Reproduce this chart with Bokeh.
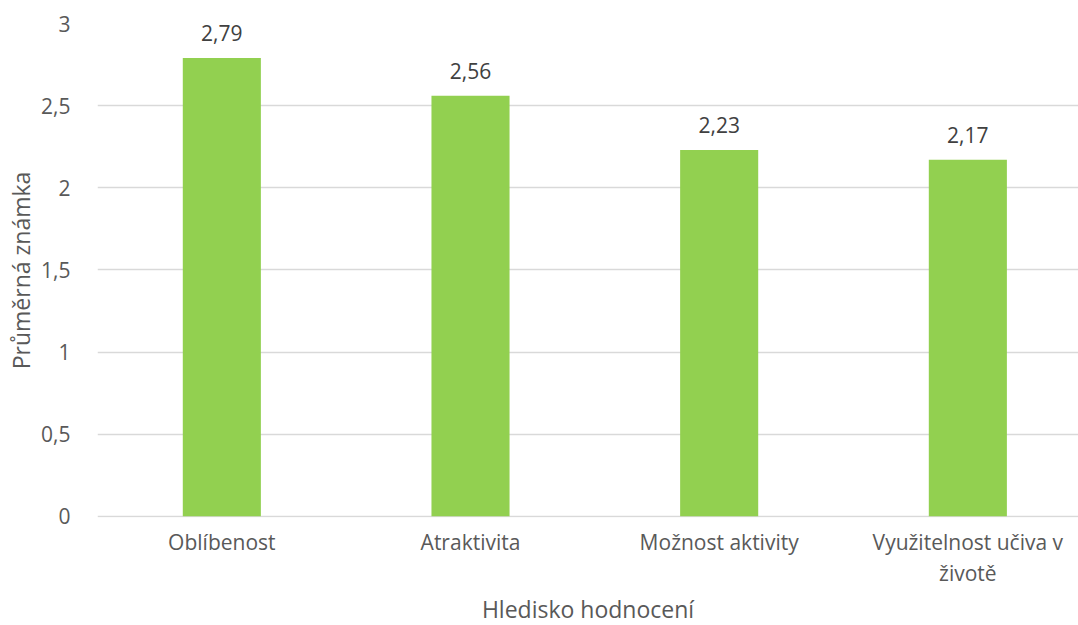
from bokeh.plotting import figure
from bokeh.models import ColumnDataSource, FixedTicker, Range1d, Title
from bokeh.core.properties import value
from bokeh.embed import file_html
from bokeh.resources import INLINE

# Average grade per evaluation aspect
categories = ["Oblíbenost", "Atraktivita", "Možnost aktivity", "Využitelnost učiva v\nživotě"]
grades = [2.79, 2.56, 2.23, 2.17]
y_ticks = [0, 0.5, 1, 1.5, 2, 2.5, 3]
y_tick_labels = ["0", "0,5", "1", "1,5", "2", "2,5", "3"]

FONT = "Open Sans"
BAR = "#92D050"
TEXT = "#595959"

xs = list(range(len(categories)))
src = ColumnDataSource(dict(
    x=xs,
    top=grades,
    label=[f"{g:.2f}".replace(".", ",") for g in grades],
))

p = figure(
    width=1078, height=625,
    x_range=Range1d(-0.5, 3.445), y_range=Range1d(-0.007, 3),
    output_backend="svg", toolbar_location=None,
    min_border_left=97, min_border_right=0,
    min_border_top=23, min_border_bottom=108,
)
p.outline_line_color = None
p.background_fill_color = "white"
p.border_fill_color = "white"

p.vbar(x="x", top="top", width=0.314, bottom=0, source=src,
       fill_color=BAR, line_color=None)

p.text(x="x", y="top", text="label", source=src,
       text_align="center", text_baseline="alphabetic", y_offset=-25,
       text_font=value(FONT), text_font_size="21px", text_color="#404040")

# Grid
p.xgrid.grid_line_color = None
p.ygrid.grid_line_color = "#D9D9D9"
p.ygrid.grid_line_width = 1.3
p.ygrid.ticker = FixedTicker(ticks=y_ticks)

# Y axis
ya = p.yaxis[0]
ya.ticker = FixedTicker(ticks=y_ticks)
ya.major_label_overrides = {t: l for t, l in zip(y_ticks, y_tick_labels)}
ya.axis_line_color = None
ya.major_tick_line_color = None
ya.minor_tick_line_color = None
ya.major_tick_out = 0
ya.major_tick_in = 0
ya.major_label_standoff = 27
ya.major_label_text_font = FONT
ya.major_label_text_font_size = "21px"
ya.major_label_text_color = TEXT
ya.axis_label = "Průměrná známka"
ya.axis_label_text_font = FONT
ya.axis_label_text_font_size = "23px"
ya.axis_label_text_font_style = "normal"
ya.axis_label_text_color = TEXT
ya.axis_label_standoff = 1

# X axis (category labels; its title sits in a panel below)
xa = p.xaxis[0]
xa.ticker = FixedTicker(ticks=xs)
xa.major_label_overrides = {i: c for i, c in zip(xs, categories)}
xa.axis_line_color = None
xa.major_tick_line_color = None
xa.minor_tick_line_color = None
xa.major_tick_out = 0
xa.major_tick_in = 0
xa.major_label_standoff = 10
xa.major_label_text_font = FONT
xa.major_label_text_font_size = "21px"
xa.major_label_text_line_height = 1.13
xa.major_label_text_color = TEXT

p.add_layout(Title(
    text="Hledisko hodnocení", align="center", offset=6, standoff=0,
    vertical_align="bottom",
    text_font=FONT, text_font_size="23px", text_font_style="normal",
    text_color=TEXT,
), "below")

open("out.html", "w").write(file_html(p, INLINE))
